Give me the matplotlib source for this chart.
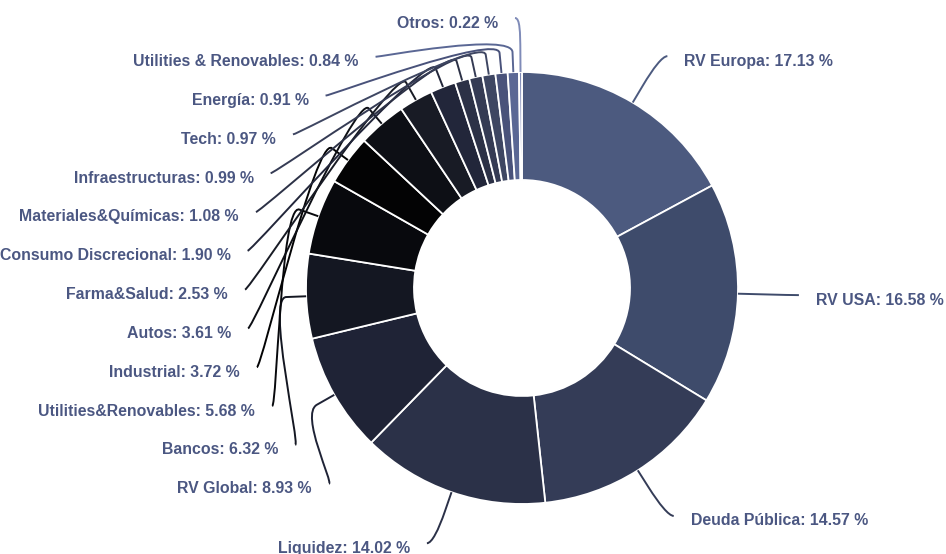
import numpy as np
import matplotlib
matplotlib.use("Agg")
import matplotlib.pyplot as plt
from matplotlib.path import Path
from matplotlib.patches import PathPatch

# data
categories = ["RV Europa", "RV USA", "Deuda Pública", "Liquidez", "RV Global", "Bancos",
              "Utilities&Renovables", "Industrial", "Autos", "Farma&Salud",
              "Consumo Discrecional", "Materiales&Químicas", "Infraestructuras", "Tech",
              "Energía", "Utilities & Renovables", "Otros"]
values = [17.13, 16.58, 14.57, 14.02, 8.93, 6.32, 5.68, 3.72, 3.61, 2.53,
          1.90, 1.08, 0.99, 0.97, 0.91, 0.84, 0.22]

# slice colours (dark ramp)
palette = ["#4c5a7f", "#3e4b6b", "#343c57", "#2b3148", "#1f2336", "#141722",
           "#08090d", "#030304", "#0d0f15", "#181b25", "#22263a", "#2c3146",
           "#353b54", "#3e4662", "#49527a", "#5a6794", "#7f8bb8"]

text_color = "#4b5782"

# layout (pixel units, y pointing down)
W, H = 946, 554
cx, cy = 522, 288
R = 216
hole = 108
label_r = 270      # radius the labels sit on
pad = 7
break_off = 20     # where the connector leaves the radial direction
slot = 38.8        # label spacing
top_lim, bot_lim = 18, 548


def distribute(targets, size, lo, hi):
    order = list(np.argsort(targets))
    groups = [[i] for i in order]

    def place(g):
        mean = np.mean([targets[i] for i in g])
        start = mean - (len(g) - 1) * size / 2
        return min(max(start, lo), hi - (len(g) - 1) * size)

    merged = True
    while merged:
        merged = False
        for k in range(len(groups) - 1):
            end1 = place(groups[k]) + (len(groups[k]) - 1) * size
            if place(groups[k + 1]) - end1 < size:
                groups[k] = groups[k] + groups[k + 1]
                del groups[k + 1]
                merged = True
                break
    pos = {}
    for g in groups:
        s = place(g)
        for j, i in enumerate(g):
            pos[i] = s + j * size
    return pos


fig = plt.figure(figsize=(W / 100, H / 100), dpi=100)
ax = fig.add_axes([0, 0, 1, 1])

wedges, _ = ax.pie(values, colors=palette, center=(cx, cy), radius=R,
                   startangle=270, counterclock=True,
                   wedgeprops=dict(width=R - hole, edgecolor="white", linewidth=1.3))
ax.set_xlim(0, W)
ax.set_ylim(H, 0)
ax.set_aspect("auto")
ax.axis("off")

# mid angles, clockwise from top
total = sum(values)
cum = np.cumsum([0] + values[:-1])
mids = np.radians((cum + np.array(values) / 2) / total * 360)
left = mids > np.pi

natural = cy - label_r * np.cos(mids)
ys = np.zeros(len(values))
for side in (True, False):
    idx = [i for i in range(len(values)) if left[i] == side]
    p = distribute([natural[i] for i in idx], slot, top_lim, bot_lim)
    for k, i in enumerate(idx):
        ys[i] = p[k]

for i, (name, v) in enumerate(zip(categories, values)):
    y = ys[i]
    dy = y - cy
    dx = np.sqrt(max(label_r ** 2 - dy ** 2, 0)) + pad
    sgn = -1 if left[i] else 1
    lx = cx + sgn * dx

    s, c = np.sin(mids[i]), np.cos(mids[i])
    tx, ty = cx + R * s, cy - R * c
    bx, by = cx + (R + break_off) * s, cy - (R + break_off) * c

    verts = [(lx, y), (lx - sgn * 5, y), (2 * bx - tx, 2 * by - ty), (bx, by), (tx, ty)]
    codes = [Path.MOVETO, Path.CURVE4, Path.CURVE4, Path.CURVE4, Path.LINETO]
    ax.add_patch(PathPatch(Path(verts, codes), fill=False, edgecolor=palette[i],
                           linewidth=1.4, zorder=3))

    ax.text(lx + sgn * 17, y + 9.5, f"{name}: {v:.2f} %",
            ha="right" if left[i] else "left", va="baseline",
            fontsize=11.4, fontweight="bold", family="Liberation Sans",
            color=text_color)

fig.savefig("out.png", dpi=100, facecolor="white")
